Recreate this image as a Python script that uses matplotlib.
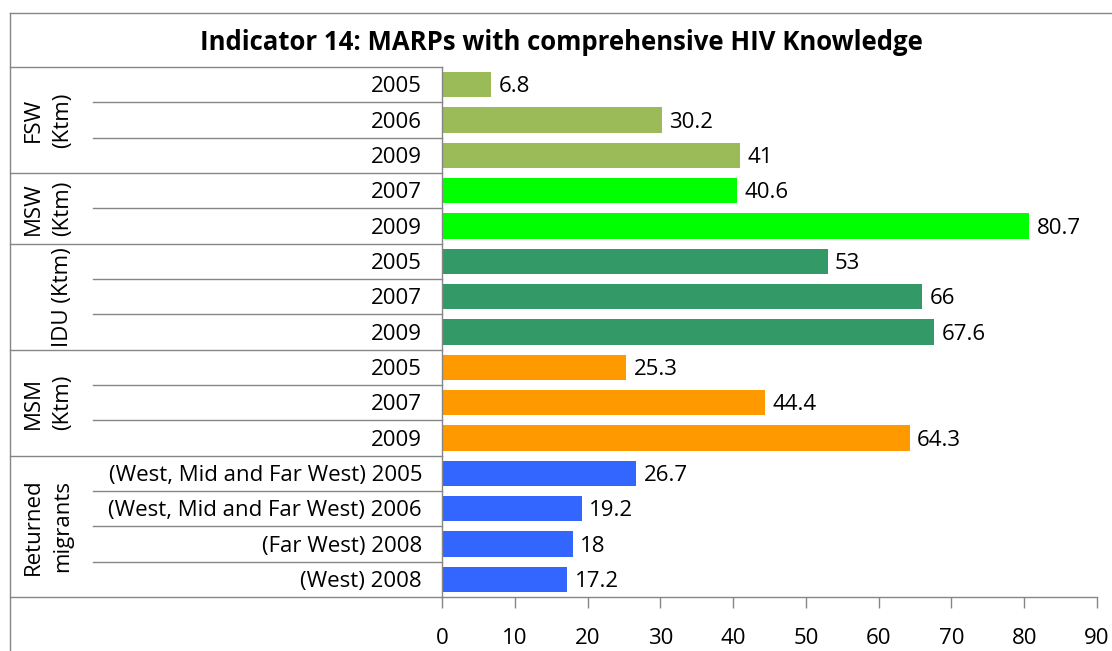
import matplotlib
matplotlib.use('Agg')
import matplotlib.pyplot as plt
from matplotlib.lines import Line2D
from matplotlib.transforms import blended_transform_factory

plt.rcParams['font.family'] = ['Open Sans', 'DejaVu Sans']

title = 'Indicator 14: MARPs with comprehensive HIV Knowledge'
groups = ['FSW\n(Ktm)', 'MSW\n(Ktm)', '\nIDU (Ktm)', 'MSM\n(Ktm)', 'Returned\nmigrants']
group_sizes = [3, 2, 3, 3, 4]
group_colors = ['#9BBB59', '#00FF00', '#339966', '#FF9900', '#3366FF']
row_labels = ['2005', '2006', '2009',
              '2007', '2009',
              '2005', '2007', '2009',
              '2005', '2007', '2009',
              '(West, Mid and Far West) 2005', '(West, Mid and Far West) 2006',
              '(Far West) 2008', '(West) 2008']
values = [6.8, 30.2, 41, 40.6, 80.7, 53, 66, 67.6, 25.3, 44.4, 64.3, 26.7, 19.2, 18, 17.2]
xticks = [0, 10, 20, 30, 40, 50, 60, 70, 80, 90]

W, H = 1112, 651
FS = 16
fig = plt.figure(figsize=(W / 100, H / 100), dpi=100)
ax = fig.add_axes([442 / W, 1 - 597 / H, (1097 - 442) / W, (597 - 67) / H])

bar_colors = []
for c, n in zip(group_colors, group_sizes):
    bar_colors += [c] * n

y = list(range(len(values)))
ax.barh(y, values, height=0.71, color=bar_colors)
for yi, v in zip(y, values):
    ax.text(v + 1.0, yi + 0.06, f'{v:g}', va='center', ha='left', fontsize=FS)

ax.set_ylim(len(values) - 0.5, -0.5)
ax.set_xlim(0, 90)
ax.set_xticks(xticks)
ax.set_xticklabels([str(t) for t in xticks])
ax.set_yticks([])
for s in ['top', 'right']:
    ax.spines[s].set_visible(False)
for s in ['left', 'bottom']:
    ax.spines[s].set_color('#868686')
    ax.spines[s].set_linewidth(1.0)
ax.tick_params(axis='x', length=8, width=1.0, color='#868686', labelsize=FS, pad=14)

# category table on the left
tr = blended_transform_factory(fig.transFigure, ax.transData)
line_kw = dict(color='#868686', linewidth=1.0, transform=tr, clip_on=False)
x_out, x_in, x_ax = 10 / W, 93 / W, 442 / W
start = 0
for g, n in zip(groups, group_sizes):
    fig.add_artist(Line2D([x_out, x_ax], [start - 0.5, start - 0.5], **line_kw))
    for k in range(1, n):
        fig.add_artist(Line2D([x_in, x_ax], [start + k - 0.5, start + k - 0.5], **line_kw))
    for k in range(n):
        fig.text(422 / W, start + k + 0.06, row_labels[start + k], transform=tr,
                 ha='right', va='center', fontsize=FS)
    fig.text(48 / W, start + (n - 1) / 2, g, transform=tr, rotation=90,
             ha='center', va='center', fontsize=FS, multialignment='center',
             linespacing=1.55)
    start += n
fig.add_artist(Line2D([x_out, x_ax], [start - 0.5, start - 0.5], **line_kw))

# chart border
fig.add_artist(Line2D([10 / W, 10 / W], [0, 1 - 13 / H], color='#868686', linewidth=1.0))
fig.add_artist(Line2D([10 / W, 1], [1 - 13 / H, 1 - 13 / H], color='#868686', linewidth=1.0))

fig.text(561 / W, 1 - 43 / H, title, ha='center', va='center', fontsize=18.5, fontweight='bold')

fig.savefig('out.png', dpi=100)
